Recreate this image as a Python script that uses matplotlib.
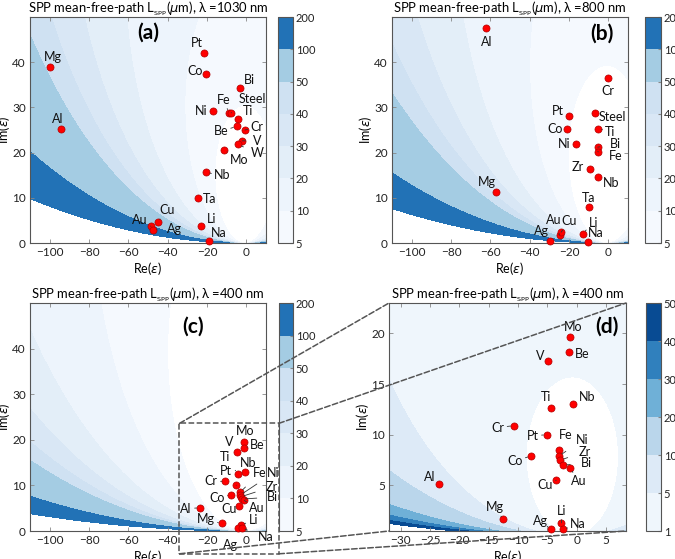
import numpy as np
import matplotlib
matplotlib.use("Agg")
import matplotlib.pyplot as plt
from matplotlib.patches import Rectangle, ConnectionPatch

plt.rcParams["font.family"] = ["Lato", "DejaVu Sans"]
plt.rcParams["mathtext.fontset"] = "dejavusans"

# ---- data (Re eps, Im eps of metals) ----

# panel (a), lambda = 1030 nm
a_names = ["Mg", "Al", "Pt", "Co", "Bi", "Ni", "Fe", "Steel", "Ti", "Be", "Cr",
           "V", "W", "Mo", "Nb", "Ta", "Li", "Na", "Au", "Cu", "Ag"]
a_re = [-100.0, -94.4, -21.6, -20.3, -3.4, -17.2, -8.9, -7.7, -4.1, -4.9, -0.7,
        -2.1, -4.1, -11.3, -20.3, -24.4, -22.8, -19.2, -48.5, -45.1, -47.5]
a_im = [38.9, 25.3, 42.0, 37.4, 34.3, 29.1, 28.8, 28.8, 27.4, 25.8, 25.0,
        22.6, 21.8, 20.6, 15.6, 10.0, 3.7, 0.5, 3.7, 4.6, 2.9]

# panel (b), lambda = 800 nm
b_names = ["Al", "Cr", "Pt", "Steel", "Co", "Ti", "Ni", "Bi", "Fe", "Zr", "Nb",
           "Mg", "Ta", "Au", "Cu", "Ag", "Li", "Na"]
b_re = [-62.0, -0.3, -19.8, -6.8, -20.9, -5.1, -16.4, -5.4, -5.4, -9.3, -5.4,
        -56.9, -10.0, -24.7, -24.0, -29.7, -13.0, -10.5]
b_im = [47.6, 36.5, 28.2, 28.8, 25.3, 25.3, 21.8, 21.2, 20.2, 16.4, 14.5,
        11.3, 7.9, 1.8, 2.4, 0.4, 2.1, 0.3]

# panels (c) and (d), lambda = 400 nm
c_names = ["Mo", "Be", "V", "Nb", "Ti", "Cr", "Pt", "Fe", "Ni", "Zr", "Bi",
           "Au", "Co", "Cu", "Al", "Mg", "Li", "Ag", "Na"]
c_re = [-1.2, -1.4, -4.9, -0.6, -4.4, -10.7, -5.1, -3.1, -3.0, -2.8, -2.3,
        -1.1, -7.8, -3.5, -23.5, -12.5, -2.6, -4.4, -2.3]
c_im = [19.6, 18.2, 17.3, 13.0, 12.6, 10.9, 10.0, 8.5, 7.9, 7.5, 7.0,
        6.7, 7.9, 5.5, 5.1, 1.65, 1.3, 0.66, 0.66]

wavelengths = [1.03, 0.8, 0.4, 0.4]   # um
levels_main = [5, 10, 20, 30, 40, 50, 100, 200]
levels_zoom = [1, 5, 10, 20, 30, 40, 50]

# ---- label placement (offset in pixels, leader line or not) ----
a_offsets = {"Mg": (3, 10), "Al": (-3, 10), "Pt": (-7, 10), "Co": (-11, 3),
             "Bi": (10, 8), "Ni": (-11, 0), "Fe": (-5, 13), "Steel": (21, 14),
             "Ti": (10, 8), "Be": (-16, -5), "Cr": (12, 3), "V": (15, 0),
             "W": (19, -9), "Mo": (15, -10), "Nb": (16, -3), "Ta": (11, -1),
             "Li": (10, 7), "Na": (10, 8), "Au": (-11, 6), "Cu": (9, 12),
             "Ag": (22, 1)}
a_lines = ["Fe", "Steel", "Be", "Cr", "V", "W", "Mo", "Nb", "Au", "Cu", "Ag"]

b_offsets = {"Al": (0, -14), "Cr": (0, -13), "Pt": (-12, 5), "Steel": (17, -4),
             "Co": (-12, 0), "Ti": (12, -3), "Ni": (-12, 0), "Bi": (18, 3),
             "Fe": (18, -4), "Zr": (-12, 2), "Nb": (13, -6), "Mg": (-10, 10),
             "Ta": (0, 9), "Au": (-6, 15), "Cu": (8, 11), "Ag": (-8, 10),
             "Li": (11, 11), "Na": (8, 9)}
b_lines = ["Ti", "Bi", "Fe", "Au", "Cu", "Li"]

c_offsets = {"Mo": (1, 11), "Be": (14, 3), "V": (-7, 10), "Ti": (-13, 17),
             "Nb": (3, 9), "Pt": (-10, 14), "Fe": (19, 19), "Ni": (33, 22),
             "Zr": (31, 10), "Bi": (31, 2), "Au": (13, -8), "Cr": (-14, 0),
             "Co": (-14, -3), "Cu": (-10, -3), "Al": (-14, -1), "Mg": (-16, 4),
             "Li": (12, 5), "Ag": (-7, -17), "Na": (24, -9)}
c_lines = ["Be", "Ti", "Pt", "Fe", "Ni", "Zr", "Bi", "Au", "Cr", "Co", "Al",
           "Mg", "Li", "Ag", "Na"]

d_offsets = {"Mo": (3, 10), "Be": (14, -2), "V": (-8, 5), "Nb": (14, 7),
             "Ti": (-5, 11), "Cr": (-16, -2), "Pt": (-14, -1), "Fe": (7, 15),
             "Ni": (23, 16), "Zr": (24, 8), "Bi": (23, 2), "Au": (8, -13),
             "Co": (-16, -5), "Cu": (-11, -5), "Al": (-9, 7), "Mg": (-9, 12),
             "Li": (0, 12), "Ag": (-10, 8), "Na": (15, 5)}
d_lines = ["Cr", "Pt", "Ni", "Zr", "Bi", "Au", "Co", "Cu", "Mg", "Li", "Ag", "Na"]

GRAY = "#555555"


def spp_length(re, im, lam):
    eps = re + 1j * im
    with np.errstate(all="ignore"):
        k = 2 * np.pi / lam * np.sqrt(eps / (eps + 1))
        return 1.0 / (2 * k.imag)


def style_axes(ax):
    for s in ax.spines.values():
        s.set_color(GRAY)
    ax.tick_params(direction="in", top=True, right=True, length=3, width=0.6,
                   color="#888888", labelsize=8.5, labelcolor="#222222", pad=3)


def draw_points(ax, names, re, im, offsets, lines):
    ax.scatter(re, im, s=26, c="red", edgecolors="#b00000", linewidths=0.5,
               zorder=5, clip_on=False)
    for name, x, y in zip(names, re, im):
        dx, dy = offsets[name]
        arrow = None
        if name in lines:
            d = np.hypot(dx, dy)
            hw = 3.1 * len(name) + 1.5
            hh = 5.0
            ux, uy = abs(dx) / d, abs(dy) / d
            cut = min(hw / ux if ux > 0 else 1e9, hh / uy if uy > 0 else 1e9)
            arrow = dict(arrowstyle="-", color="#333333", lw=0.6,
                         shrinkA=cut * 0.72, shrinkB=2.5)
        ax.annotate(name, (x, y), xytext=(dx, dy), textcoords="offset pixels",
                    ha="center", va="center", fontsize=9, color="#111111",
                    arrowprops=arrow, zorder=6)


def panel(rect, cbrect, lam, xlim, ylim, levels, letter, letter_pos):
    ax = fig.add_axes(rect)
    cax = fig.add_axes(cbrect)
    x = np.linspace(xlim[0], xlim[1], 700)
    y = np.linspace(ylim[0], ylim[1], 500)
    X, Y = np.meshgrid(x, y)
    L = spp_length(X, Y, lam)
    cs = ax.contourf(X, Y, L, levels=levels, cmap="Blues",
                     vmin=levels[0], vmax=levels[-1])
    ax.set_xlim(xlim)
    ax.set_ylim(ylim)
    cb = fig.colorbar(cs, cax=cax, ticks=levels)
    cb.outline.set_edgecolor(GRAY)
    cb.ax.tick_params(direction="in", length=2, color="#888888", labelsize=8,
                      labelcolor="#222222", pad=2)
    style_axes(ax)
    ax.set_xlabel(r"Re($\varepsilon$)", fontsize=9, labelpad=1)
    ax.set_ylabel(r"Im($\varepsilon$)", fontsize=9, labelpad=0)
    nm = int(round(lam * 1000))
    ax.set_title(r"SPP mean-free-path L$_{_{\rm SPP}}$($\mu$m), λ =%d nm" % nm,
                 fontsize=9.4, pad=3)
    ax.text(letter_pos[0], letter_pos[1], letter, transform=ax.transAxes,
            ha="center", va="center", fontsize=15, fontweight="bold")
    return ax


W, H = 675.0, 559.0


def box(l, r, t, b):
    return [l / W, (H - b) / H, (r - l) / W, (b - t) / H]


fig = plt.figure(figsize=(6.75, 5.59), dpi=100)

ax_a = panel(box(30, 266, 17, 243), box(278, 293, 17, 243), wavelengths[0],
             (-110, 10), (0, 50), levels_main, "(a)", (0.5, 0.93))
draw_points(ax_a, a_names, a_re, a_im, a_offsets, a_lines)

ax_b = panel(box(392, 628, 17, 243), box(645, 661, 17, 243), wavelengths[1],
             (-110, 10), (0, 50), levels_main, "(b)", (0.89, 0.925))
draw_points(ax_b, b_names, b_re, b_im, b_offsets, b_lines)

ax_c = panel(box(30, 266, 303, 531), box(279, 293, 303, 531), wavelengths[2],
             (-110, 10), (0, 50), levels_main, "(c)", (0.69, 0.895))
draw_points(ax_c, c_names, c_re, c_im, c_offsets, c_lines)

ax_d = panel(box(389, 626, 303, 531), box(646, 661, 303, 531), wavelengths[3],
             (-32, 8.4), (0.5, 23), levels_zoom, "(d)", (0.92, 0.895))
draw_points(ax_d, c_names, c_re, c_im, d_offsets, d_lines)

for ax in (ax_a, ax_b, ax_c):
    ax.set_yticks([0, 10, 20, 30, 40])
    ax.set_xticks([-100, -80, -60, -40, -20, 0])
ax_d.set_yticks([5, 10, 15, 20])
ax_d.set_xticks([-30, -25, -20, -15, -10, -5, 0, 5])

# zoom box in (c) and connectors to (d)
bx0, bx1, by0, by1 = -34, 16.5, -5, 23.6
ax_c.add_patch(Rectangle((bx0, by0), bx1 - bx0, by1 - by0, fill=False,
                         ls="--", lw=1.1, ec=GRAY, clip_on=False, zorder=7))
for (xa, ya), (xb, yb) in [((bx0, by1), (0, 1)), ((bx1, by1), (1, 1)),
                           ((bx0, by0), (0, 0)), ((bx1, by0), (1, 0))]:
    con = ConnectionPatch(xyA=(xa, ya), coordsA=ax_c.transData,
                          xyB=(xb, yb), coordsB=ax_d.transAxes,
                          ls="--", lw=1.1, color=GRAY)
    fig.add_artist(con)

fig.savefig("out.png", dpi=100)
